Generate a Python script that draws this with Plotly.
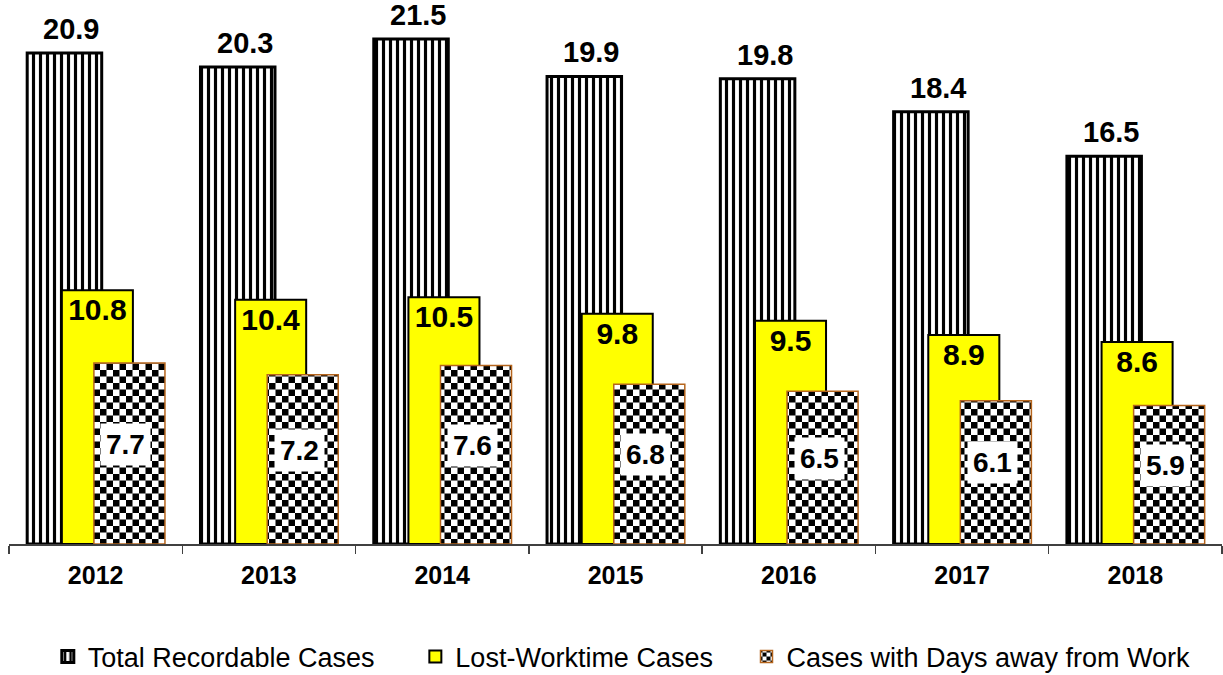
import plotly.graph_objects as go

years = ["2012", "2013", "2014", "2015", "2016", "2017", "2018"]
total_recordable = [20.9, 20.3, 21.5, 19.9, 19.8, 18.4, 16.5]
lost_worktime = [10.8, 10.4, 10.5, 9.8, 9.5, 8.9, 8.6]
days_away = [7.7, 7.2, 7.6, 6.8, 6.5, 6.1, 5.9]

series_names = ["Total Recordable Cases", "Lost-Worktime Cases", "Cases with Days away from Work"]

FONT = "Liberation Sans, Arial, sans-serif"

# bar geometry in category units
OFF = [-0.395, -0.195, -0.01]
WID = [0.43, 0.41, 0.41]

fig = go.Figure()

fig.add_trace(go.Bar(
    x=list(range(len(years))), y=total_recordable, name=series_names[0],
    offset=OFF[0], width=WID[0], legend="legend",
    marker=dict(color="white",
                line=dict(color="black", width=3),
                pattern=dict(shape="|", size=7, solidity=0.45,
                             fgcolor="black", bgcolor="white", fillmode="replace")),
    hoverinfo="skip",
))

fig.add_trace(go.Bar(
    x=list(range(len(years))), y=lost_worktime, name=series_names[1],
    offset=OFF[1], width=WID[1], legend="legend2",
    marker=dict(color="#FFFF00", line=dict(color="black", width=2)),
    text=[f"<b>{v:.1f}</b>" for v in lost_worktime],
    textposition="inside", insidetextanchor="end",
    textfont=dict(family=FONT, size=30, color="black"),
    constraintext="none",
    hoverinfo="skip",
))

fig.add_trace(go.Bar(
    x=list(range(len(years))), y=days_away, name=series_names[2],
    offset=OFF[2], width=WID[2], legend="legend3",
    marker=dict(color="white",
                line=dict(color="#B5651D", width=1.5),
                pattern=dict(shape="+", size=13, solidity=0.5,
                             fgcolor="#000001", bgcolor="white", fillmode="replace")),
    hoverinfo="skip",
))

annotations = []
for i, v in enumerate(total_recordable):
    annotations.append(dict(
        x=i + OFF[0] + WID[0] / 2 + 0.04, y=v, xref="x", yref="y",
        text=f"<b>{v:.1f}</b>", showarrow=False, yanchor="bottom", yshift=6,
        font=dict(family=FONT, size=29, color="black"),
    ))
for i, v in enumerate(days_away):
    annotations.append(dict(
        x=i + OFF[2] + WID[2] / 2 - 0.02, y=v / 2 + 0.4, xref="x", yref="y",
        text=f"<b>{v:.1f}</b>", showarrow=False, yanchor="middle",
        bgcolor="white", borderpad=5,
        font=dict(family=FONT, size=28, color="black"),
    ))

legend_common = dict(orientation="h", y=-0.21, yanchor="middle", xanchor="left",
                     font=dict(family=FONT, size=27, color="black"),
                     itemclick=False, itemdoubleclick=False, bgcolor="rgba(0,0,0,0)")

fig.update_layout(
    width=1223, height=675,
    margin=dict(l=9, r=1, t=6, b=131, autoexpand=False),
    plot_bgcolor="white", paper_bgcolor="white",
    barmode="overlay",
    font=dict(family=FONT, color="black"),
    showlegend=True,
    legend=dict(x=0.032, **legend_common),
    legend2=dict(x=0.335, **legend_common),
    legend3=dict(x=0.608, **legend_common),
    annotations=annotations,
    xaxis=dict(
        tickmode="array", tickvals=list(range(len(years))),
        ticktext=[f"<b>{y}</b>" for y in years],
        range=[-0.5, len(years) - 0.5],
        automargin=False,
        showline=True, linecolor="#404040", linewidth=1.5,
        ticks="", ticklabelstandoff=8,
        showgrid=False, zeroline=False,
        tickfont=dict(family=FONT, size=25, color="black"),
        minor=dict(tickvals=[i - 0.5 for i in range(len(years) + 1)],
                   ticks="outside", ticklen=8, tickcolor="#404040", tickwidth=1.5),
    ),
    yaxis=dict(range=[0, 22.9], visible=False, automargin=False,
               showgrid=False, zeroline=False),
)

post_script = """
document.body.style.margin = '0';
document.body.style.padding = '0';
function checker(){
  document.querySelectorAll('pattern').forEach(function(p){
    var path = p.querySelector('path');
    if(!path) return;
    var st = (path.getAttribute('stroke') || path.style.stroke || '').replace(/\\s/g,'');
    if(st === 'rgb(0,0,1)' || st === '#000001'){
      var s = parseFloat(p.getAttribute('width'));
      var h = s/2;
      path.setAttribute('d', 'M0,0H'+h+'V'+h+'H0Z M'+h+','+h+'H'+s+'V'+s+'H'+h+'Z');
      path.setAttribute('fill', 'black');
      path.style.fill = 'black';
      path.setAttribute('stroke', 'none');
      path.style.stroke = 'none';
      path.style.strokeWidth = '0';
    }
  });
}
checker();
var gd = document.getElementById('{plot_id}');
if(gd && gd.on){ gd.on('plotly_afterplot', checker); }
"""

fig.write_html("out.html", post_script=post_script,
               config={"displayModeBar": False, "staticPlot": True})
